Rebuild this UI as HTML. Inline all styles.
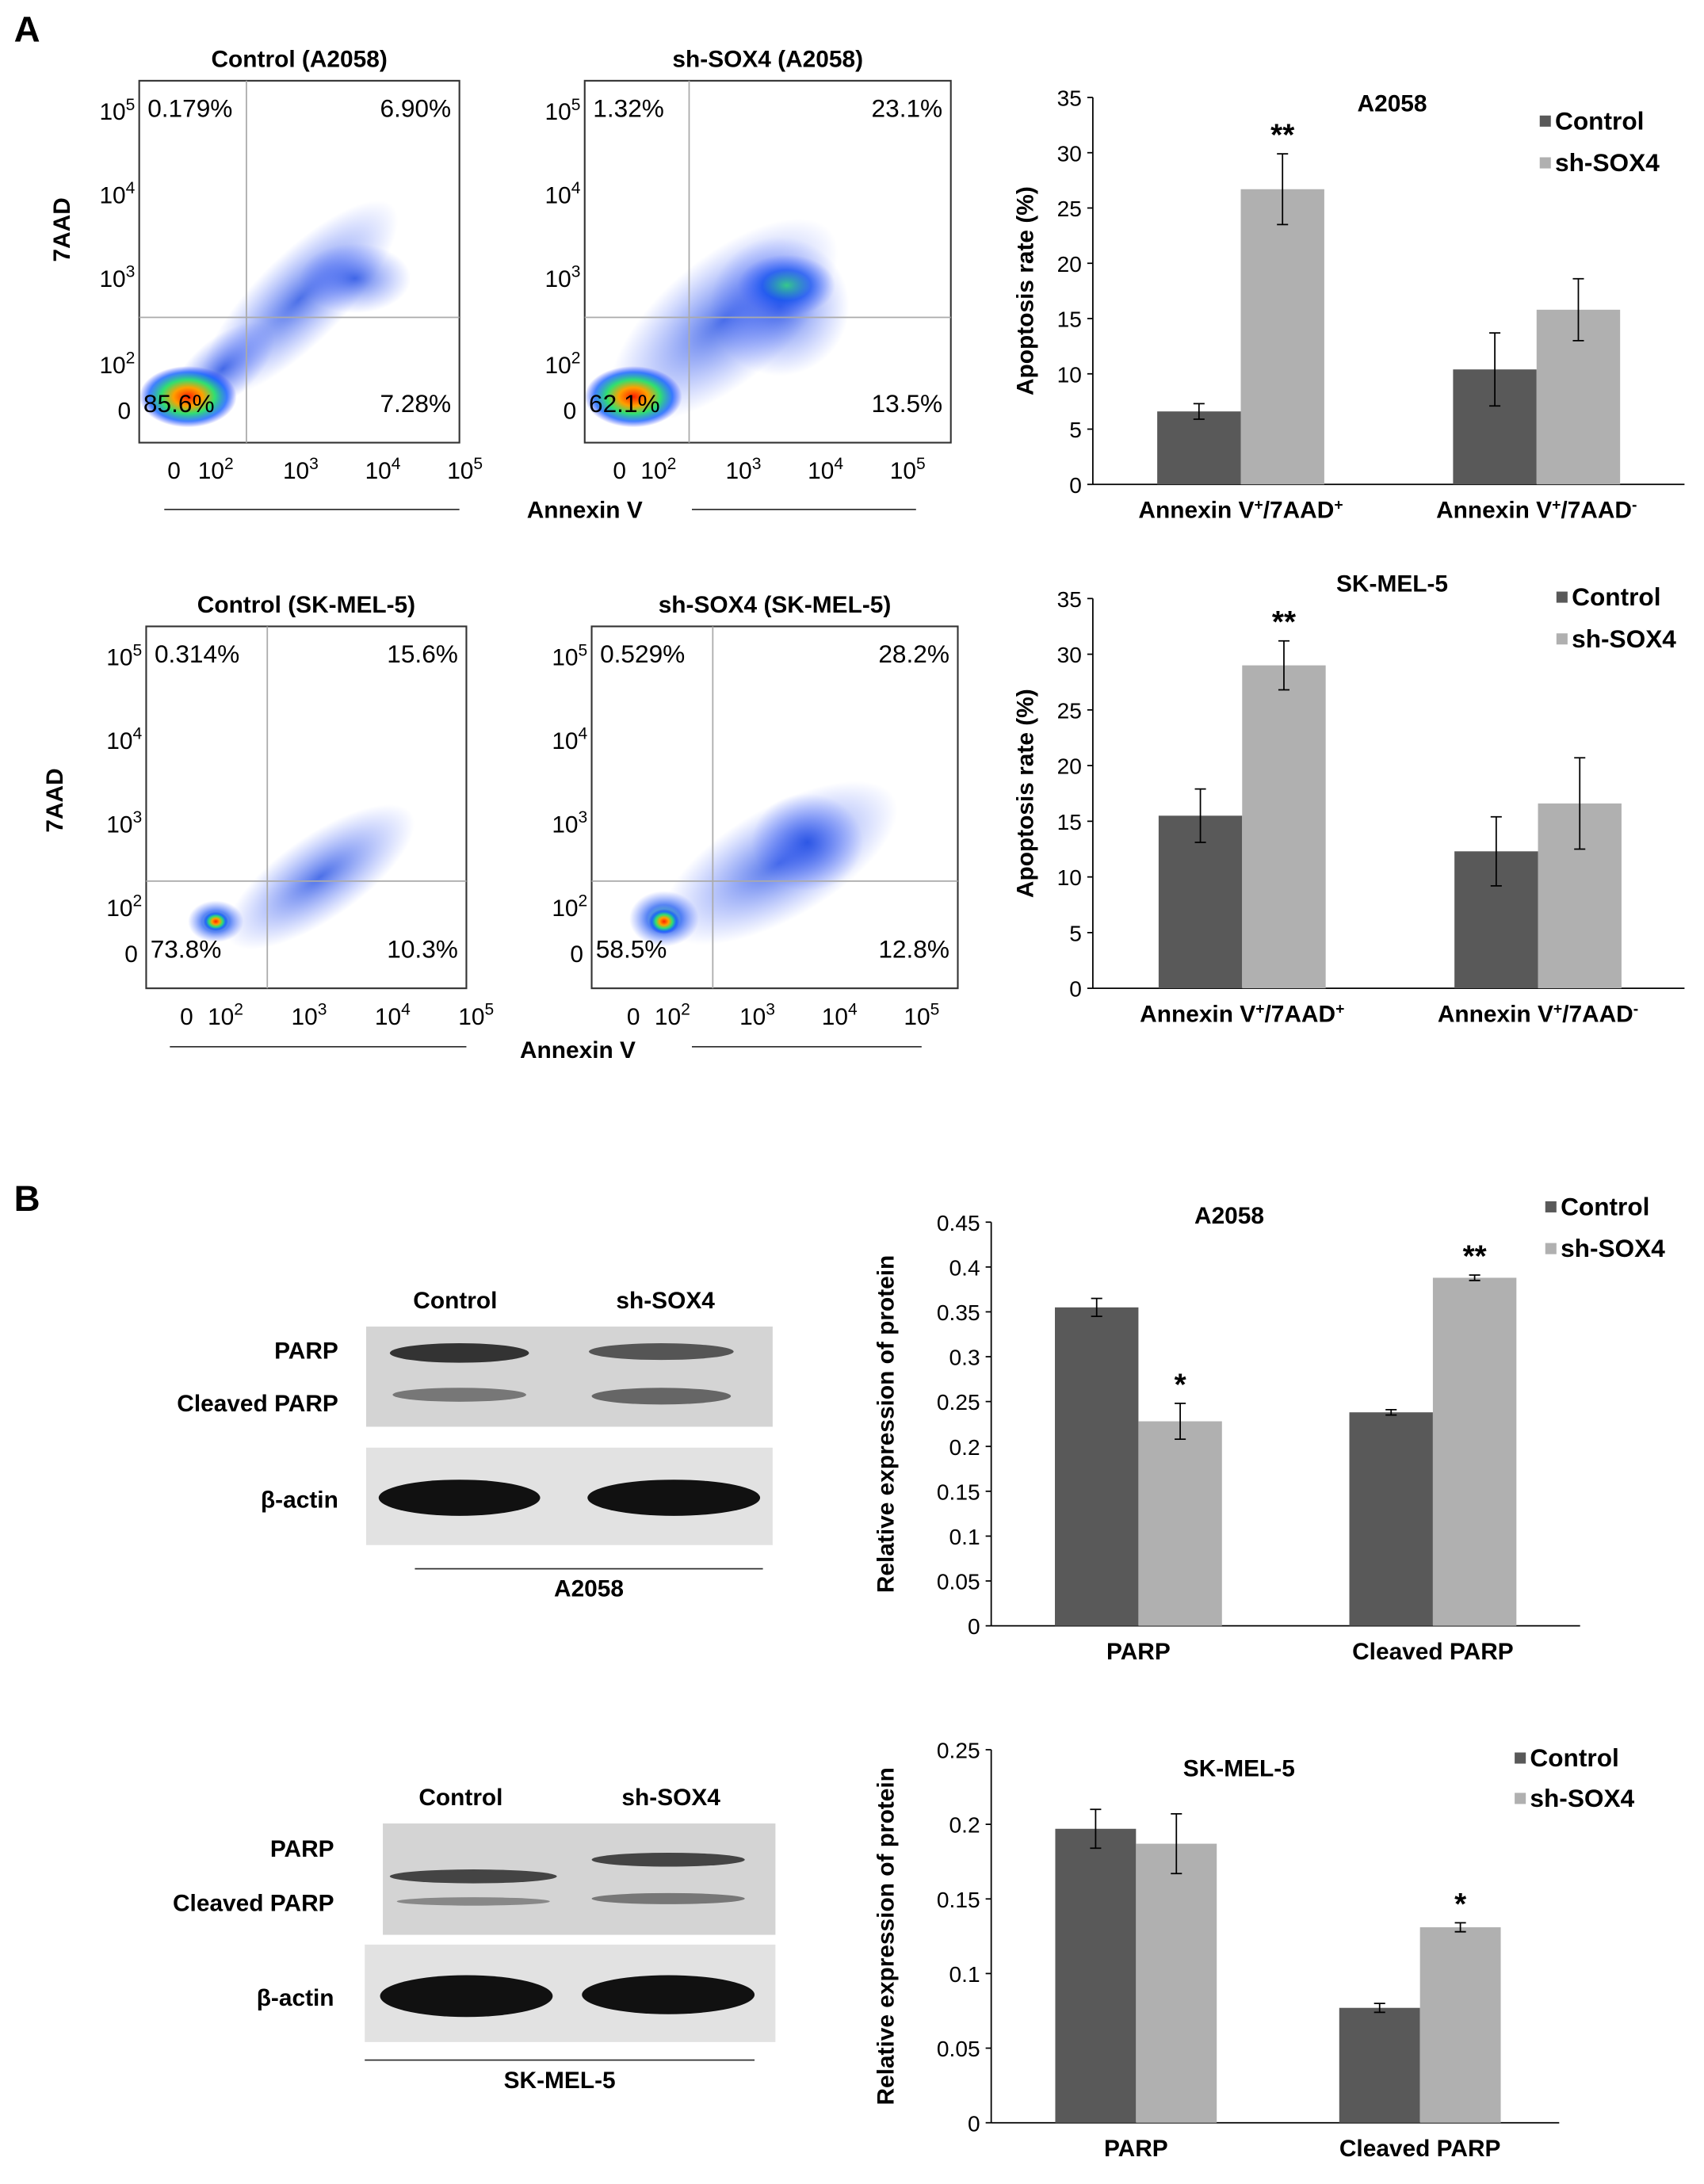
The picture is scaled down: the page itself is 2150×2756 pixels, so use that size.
<!DOCTYPE html>
<html><head><meta charset="utf-8"><style>
html,body{margin:0;padding:0;background:#fff}
svg{display:block;font-family:"Liberation Sans",Arial,sans-serif}
</style></head><body>
<svg id="fig" width="2150" height="2756" viewBox="0 0 1224 1569" xmlns="http://www.w3.org/2000/svg">
<defs>
<radialGradient id="hot" cx="50%" cy="50%" r="50%"><stop offset="0" stop-color="#ff2000"/><stop offset="0.3" stop-color="#ffa000"/><stop offset="0.55" stop-color="#30e070"/><stop offset="0.8" stop-color="#1060ff" stop-opacity="0.8"/><stop offset="1" stop-color="#2030ff" stop-opacity="0"/></radialGradient>
<radialGradient id="blue" cx="50%" cy="50%" r="50%"><stop offset="0" stop-color="#1040e0" stop-opacity="0.75"/><stop offset="1" stop-color="#4060ff" stop-opacity="0"/></radialGradient>
<radialGradient id="green" cx="50%" cy="50%" r="50%"><stop offset="0" stop-color="#30d080" stop-opacity="0.9"/><stop offset="0.5" stop-color="#1050f0" stop-opacity="0.7"/><stop offset="1" stop-color="#4060ff" stop-opacity="0"/></radialGradient>
</defs>
<text x="10" y="30" font-size="26" font-weight="bold">A</text>
<text x="10" y="870" font-size="26" font-weight="bold">B</text>
</svg>
<script>
const NS='http://www.w3.org/2000/svg';
const fig=document.getElementById('fig');
function mk(tag,attrs,parent,txt){const e=document.createElementNS(NS,tag);for(const k in attrs)e.setAttribute(k,attrs[k]);if(txt!==undefined)e.textContent=txt;(parent||fig).appendChild(e);return e;}

// ---------- Bar chart data ----------
const barCategoriesA=['Annexin V+/7AAD+','Annexin V+/7AAD-'];
const a2058Control=[6.6,10.4];
const a2058ControlErr=[0.7,3.3];
const a2058Sh=[26.7,15.8];
const a2058ShErr=[3.2,2.8];
const a2058Sig=['**',''];
const skmelControl=[15.5,12.3];
const skmelControlErr=[2.4,3.1];
const skmelSh=[29.0,16.6];
const skmelShErr=[2.2,4.1];
const skmelSig=['**',''];
const apoptosisTicks=[0,5,10,15,20,25,30,35];
const barCategoriesB=['PARP','Cleaved PARP'];
const protA2058Control=[0.355,0.238];
const protA2058ControlErr=[0.01,0.003];
const protA2058Sh=[0.228,0.388];
const protA2058ShErr=[0.02,0.003];
const protA2058Sig=['*','**'];
const protA2058Ticks=[0,0.05,0.1,0.15,0.2,0.25,0.3,0.35,0.4,0.45];
const protSkmelControl=[0.197,0.077];
const protSkmelControlErr=[0.013,0.003];
const protSkmelSh=[0.187,0.131];
const protSkmelShErr=[0.02,0.003];
const protSkmelSig=['','*'];
const protSkmelTicks=[0,0.05,0.1,0.15,0.2,0.25];

function barChart(cfg){
  const g=mk('g',{});
  
  
  const max=cfg.ticks[cfg.ticks.length-1];
  const y=v=>cfg.y0-(v/max)*(cfg.y0-cfg.y1);
  mk('line',{x1:cfg.x0,x2:cfg.x0,y1:cfg.y1,y2:cfg.y0,stroke:'#000','stroke-width':1},g);
  mk('line',{x1:cfg.x0,x2:cfg.xEnd,y1:cfg.y0,y2:cfg.y0,stroke:'#000','stroke-width':1},g);
  cfg.ticks.forEach(t=>{
    mk('line',{x1:cfg.x0-4,x2:cfg.x0,y1:y(t),y2:y(t),stroke:'#000'},g);
    const tx=mk('text',{x:cfg.x0-8,y:y(t)+6,'font-size':16,'text-anchor':'end'},g,String(t));
    
    
  });
  const yt=mk('text',{x:0,y:0,'font-size':17,'font-weight':'bold','text-anchor':'middle',transform:`translate(${cfg.yTitleX},${(cfg.y0+cfg.y1)/2}) rotate(-90)`},g,cfg.yTitle);
  
  
  const tt=mk('text',{x:cfg.titleX,y:cfg.titleY,'font-size':17,'font-weight':'bold','text-anchor':'middle'},g,cfg.title);
  
  
  const groupW=(cfg.xEnd-cfg.x0)/cfg.cats.length;
  cfg.cats.forEach((c,i)=>{
    const cx=cfg.x0+groupW*(i+0.5)+cfg.shift;
    [[cfg.ctrl,cfg.ctrlErr,'#595959',-1],[cfg.sh,cfg.shErr,'#b0b0b0',0]].forEach(([vals,errs,col,off],s)=>{
      const bx=cx+off*cfg.bw, v=vals[i];
      const r=mk('rect',{x:bx,y:y(v),width:cfg.bw,height:cfg.y0-y(v),fill:col},g);
      
      
      const ex=bx+cfg.bw/2,e=errs[i];
      mk('path',{d:`M${ex},${y(v+e)}V${y(v-e)}M${ex-4},${y(v+e)}H${ex+4}M${ex-4},${y(v-e)}H${ex+4}`,stroke:'#000','stroke-width':1,fill:'none'},g);
      if(s===1&&cfg.sig[i]){
        const st=mk('text',{x:ex,y:y(v+e)-6,'font-size':22,'font-weight':'bold','text-anchor':'middle'},g,cfg.sig[i]);
        
        
      }
    });
    const lab=mk('text',{x:cx,y:cfg.y0+24,'font-size':17,'font-weight':'bold','text-anchor':'middle'},g);
    if(cfg.annex){
      const parts=c.split('+/7AAD');
      mk('tspan',{},lab,'Annexin V');mk('tspan',{'baseline-shift':'super','font-size':11},lab,'+');
      mk('tspan',{'baseline-shift':'0'},lab,'/7AAD');mk('tspan',{'baseline-shift':'super','font-size':11},lab,parts[1]);
    } else lab.textContent=c;
    
    
  });
  [['Control','#595959'],['sh-SOX4','#b0b0b0']].forEach(([n,col],k)=>{
    const lg=mk('g',{},g);
    
    
    mk('rect',{x:cfg.legX,y:cfg.legY+k*cfg.legDy-5,width:8,height:8,fill:col},lg);
    mk('text',{x:cfg.legX+11,y:cfg.legY+k*cfg.legDy+5,'font-size':18,'font-weight':'bold'},lg,n);
  });
}
barChart({name:'chart-apoptosis-a2058',cats:barCategoriesA,annex:true,ctrl:a2058Control,ctrlErr:a2058ControlErr,sh:a2058Sh,shErr:a2058ShErr,sig:a2058Sig,ticks:apoptosisTicks,x0:785,xEnd:1210,y0:348,y1:70,bw:60,shift:0,yTitle:'Apoptosis rate (%)',yTitleX:742,title:'A2058',titleX:1000,titleY:80,legX:1106,legY:88,legDy:30});
barChart({name:'chart-apoptosis-skmel5',cats:barCategoriesA,annex:true,ctrl:skmelControl,ctrlErr:skmelControlErr,sh:skmelSh,shErr:skmelShErr,sig:skmelSig,ticks:apoptosisTicks,x0:785,xEnd:1210,y0:710,y1:430,bw:60,shift:1,yTitle:'Apoptosis rate (%)',yTitleX:742,title:'SK-MEL-5',titleX:1000,titleY:425,legX:1118,legY:430,legDy:30});
barChart({name:'chart-protein-a2058',cats:barCategoriesB,annex:false,ctrl:protA2058Control,ctrlErr:protA2058ControlErr,sh:protA2058Sh,shErr:protA2058ShErr,sig:protA2058Sig,ticks:protA2058Ticks,x0:712,xEnd:1135,y0:1168,y1:878,bw:60,shift:0,yTitle:'Relative expression of protein',yTitleX:642,title:'A2058',titleX:883,titleY:879,legX:1110,legY:868,legDy:30});
barChart({name:'chart-protein-skmel5',cats:barCategoriesB,annex:false,ctrl:protSkmelControl,ctrlErr:protSkmelControlErr,sh:protSkmelSh,shErr:protSkmelShErr,sig:protSkmelSig,ticks:protSkmelTicks,x0:712,xEnd:1120,y0:1525,y1:1257,bw:58,shift:2,yTitle:'Relative expression of protein',yTitleX:642,title:'SK-MEL-5',titleX:890,titleY:1276,legX:1088,legY:1264,legDy:29});

// ---------- Flow cytometry plots ----------
function flow(c){
  const g=mk('g',{});
  
  
  const t=mk('text',{x:(c.x0+c.x1)/2,y:c.y0-10,'font-size':17,'font-weight':'bold','text-anchor':'middle'},g,c.title);
  
  c.blobs.forEach(b=>mk('ellipse',{cx:b[0],cy:b[1],rx:b[2],ry:b[3],fill:`url(#${b[4]})`,transform:`rotate(${b[5]||0} ${b[0]} ${b[1]})`},g));
  mk('rect',{x:c.x0,y:c.y0,width:c.x1-c.x0,height:c.y1-c.y0,fill:'none',stroke:'#333','stroke-width':1.2},g);
  mk('line',{x1:c.vx,x2:c.vx,y1:c.y0,y2:c.y1,stroke:'#aaa'},g);
  mk('line',{x1:c.x0,x2:c.x1,y1:c.hy,y2:c.hy,stroke:'#aaa'},g);
  const yl=[['5',c.ty[0]],['4',c.ty[1]],['3',c.ty[2]],['2',c.ty[3]]];
  yl.forEach(([p,yy])=>{const tx=mk('text',{x:c.x0-3,y:yy,'font-size':17,'text-anchor':'end'},g);mk('tspan',{},tx,'10');mk('tspan',{dy:-7,'font-size':12},tx,p);});
  mk('text',{x:c.x0-6,y:c.ty[4],'font-size':17,'text-anchor':'end'},g,'0');
  mk('text',{x:c.tx[0],y:c.y1+26,'font-size':17,'text-anchor':'middle'},g,'0');
  ['2','3','4','5'].forEach((p,i)=>{const tx=mk('text',{x:c.tx[i+1]-5,y:c.y1+26,'font-size':17,'text-anchor':'middle'},g);mk('tspan',{},tx,'10');mk('tspan',{dy:-7,'font-size':12},tx,p);});
  const q=c.q;
  mk('text',{x:c.x0+6,y:c.y0+26,'font-size':18},g,q[0]);
  mk('text',{x:c.x1-6,y:c.y0+26,'font-size':18,'text-anchor':'end'},g,q[1]);
  mk('text',{x:c.x0+3,y:c.y1-22,'font-size':18},g,q[2]);
  mk('text',{x:c.x1-6,y:c.y1-22,'font-size':18,'text-anchor':'end'},g,q[3]);
}
flow({name:'flow-control-a2058',title:'Control (A2058)',x0:100,x1:330,y0:58,y1:318,vx:177,hy:228,ty:[86,146,206,268,301],tx:[125,160,221,280,339],q:['0.179%','6.90%','85.6%','7.28%'],
 blobs:[[215,215,95,32,'blue',-45],[255,200,40,25,'blue',0],[160,265,45,22,'blue',-40],[135,285,35,22,'hot',0]]});
flow({name:'flow-sh-sox4-a2058',title:'sh-SOX4 (A2058)',x0:420,x1:683,y0:58,y1:318,vx:495,hy:228,ty:[86,146,206,268,301],tx:[445,478,539,598,657],q:['1.32%','23.1%','62.1%','13.5%'],
 blobs:[[520,230,100,45,'blue',-40],[560,220,50,50,'blue',0],[565,205,35,22,'green',0],[455,285,35,22,'hot',0]]});
flow({name:'flow-control-skmel5',title:'Control (SK-MEL-5)',x0:105,x1:335,y0:450,y1:710,vx:192,hy:633,ty:[478,538,598,658,691],tx:[134,167,227,287,347],q:['0.314%','15.6%','73.8%','10.3%'],
 blobs:[[230,630,80,30,'blue',-35],[155,662,20,15,'green',0],[155,662,9,7,'hot',0]]});
flow({name:'flow-sh-sox4-skmel5',title:'sh-SOX4 (SK-MEL-5)',x0:425,x1:688,y0:450,y1:710,vx:512,hy:633,ty:[478,538,598,658,691],tx:[455,488,549,608,667],q:['0.529%','28.2%','58.5%','12.8%'],
 blobs:[[560,620,95,40,'blue',-30],[580,605,40,35,'blue',0],[477,660,25,20,'green',0],[477,662,11,9,'hot',0]]});
[['7AAD',50,165],['7AAD',45,575]].forEach(([s,x,y])=>{const t=mk('text',{x:0,y:0,'font-size':17,'font-weight':'bold','text-anchor':'middle',transform:`translate(${x},${y}) rotate(-90)`},null,s);});
[[420,372,118,330,497,658,366],[415,760,122,335,497,662,752]].forEach(([x,y,a,b,c,d,ly])=>{
  const t=mk('text',{x:x,y:y,'font-size':17,'font-weight':'bold','text-anchor':'middle'},null,'Annexin V');
  
  mk('line',{x1:a,x2:b,y1:ly,y2:ly,stroke:'#333'});mk('line',{x1:c,x2:d,y1:ly,y2:ly,stroke:'#333'});
});

// ---------- Western blots ----------
function blot(c){
  const g=mk('g',{});
  
  
  mk('rect',{x:c.bx,y:c.by,width:c.bw,height:c.bh,fill:'#d4d4d4'},g);
  mk('rect',{x:c.ax,y:c.ay,width:c.aw,height:c.ah,fill:'#e2e2e2'},g);
  c.bands.forEach(b=>mk('ellipse',{cx:b[0],cy:b[1],rx:b[2],ry:b[3],fill:b[4]},g));
  mk('text',{x:c.l1,y:c.ly,'font-size':17,'font-weight':'bold','text-anchor':'middle'},g,'Control');
  mk('text',{x:c.l2,y:c.ly,'font-size':17,'font-weight':'bold','text-anchor':'middle'},g,'sh-SOX4');
  mk('text',{x:c.labX,y:c.py,'font-size':17,'font-weight':'bold','text-anchor':'end'},g,'PARP');
  mk('text',{x:c.labX,y:c.cy,'font-size':17,'font-weight':'bold','text-anchor':'end'},g,'Cleaved PARP');
  mk('text',{x:c.labX,y:c.acy,'font-size':17,'font-weight':'bold','text-anchor':'end'},g,'β-actin');
  mk('line',{x1:c.lx1,x2:c.lx2,y1:c.lly,y2:c.lly,stroke:'#333'},g);
  mk('text',{x:(c.lx1+c.lx2)/2,y:c.lly+20,'font-size':17,'font-weight':'bold','text-anchor':'middle'},g,c.cell);
}
blot({name:'western-blot-a2058',bx:263,by:953,bw:292,bh:72,ax:263,ay:1040,aw:292,ah:70,l1:327,l2:478,ly:940,labX:243,py:976,cy:1014,acy:1083,lx1:298,lx2:548,lly:1127,cell:'A2058',
 bands:[[330,972,50,7,'#333'],[330,1002,48,5,'#777'],[475,971,52,6,'#555'],[475,1003,50,6,'#666'],[330,1076,58,13,'#111'],[484,1076,62,13,'#111']]});
blot({name:'western-blot-skmel5',bx:275,by:1310,bw:282,bh:80,ax:262,ay:1397,aw:295,ah:70,l1:331,l2:482,ly:1297,labX:240,py:1334,cy:1373,acy:1441,lx1:262,lx2:542,lly:1480,cell:'SK-MEL-5',
 bands:[[340,1348,60,5,'#444'],[340,1366,55,3,'#888'],[480,1336,55,5,'#444'],[480,1364,55,4,'#777'],[335,1434,62,15,'#111'],[480,1433,62,14,'#111']]});
</script>
</body></html>
